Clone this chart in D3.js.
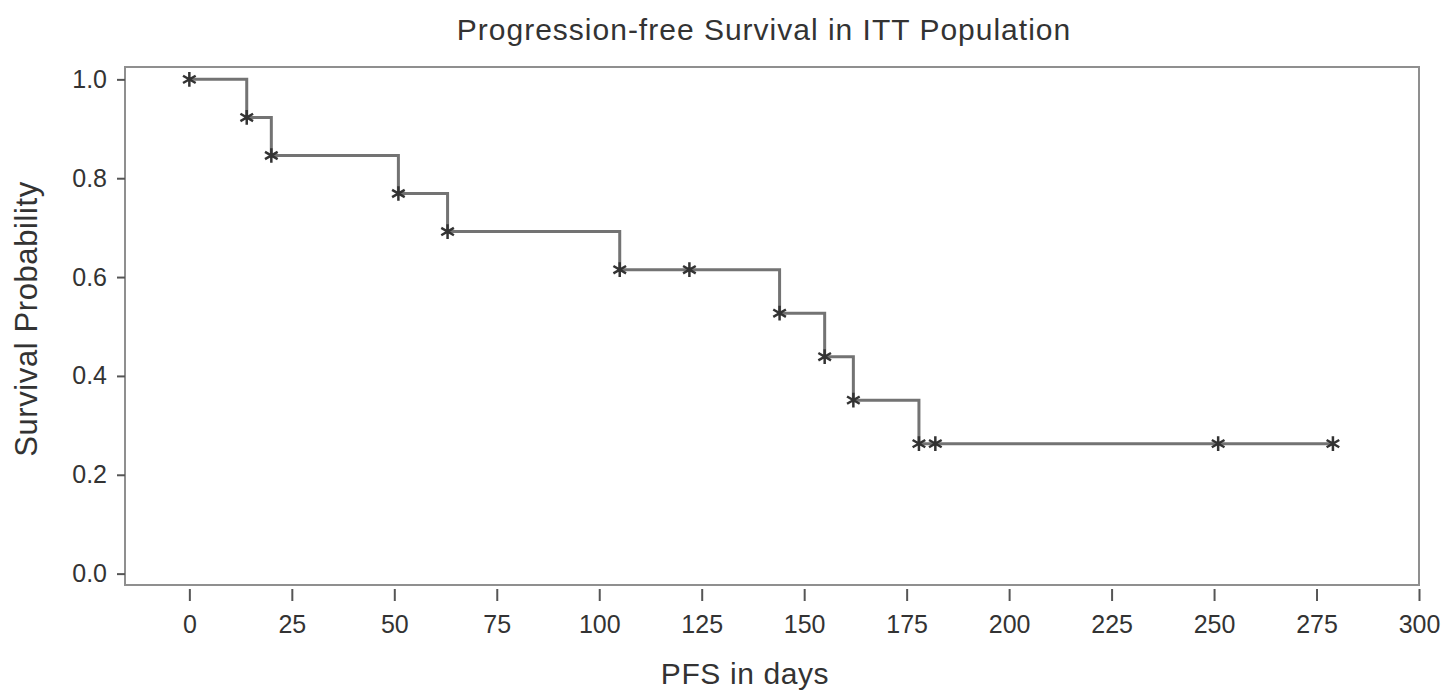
<!DOCTYPE html>
<html>
<head>
	<meta charset="utf-8">
	<title>Progression-free Survival</title>
	<script src="https://cdn.jsdelivr.net/npm/d3@7"></script>
	<style>
	body { margin: 0; background: #fff; }
	text { font-family: "Liberation Sans", Arial, sans-serif; fill: #333; }
	</style>
</head>
<body>
<svg width="1446" height="693"></svg>
<script>

// Kaplan-Meier estimate (n = 13)
var eventTimes = [0, 14, 20, 51, 63, 105, 144, 155, 162, 178];
var survival   = [1.0, 0.923, 0.846, 0.769, 0.692, 0.615, 0.527, 0.439, 0.351, 0.263];
var censorTimes = [122, 182, 251, 279];
var censorSurv  = [0.615, 0.263, 0.263, 0.263];
var xTicks = [0, 25, 50, 75, 100, 125, 150, 175, 200, 225, 250, 275, 300];
var yTicks = [0.0, 0.2, 0.4, 0.6, 0.8, 1.0];

var svg = d3.select("svg");

var x = d3.scaleLinear().domain([-15.7, 300]).range([125, 1419]);
var y = d3.scaleLinear().domain([-0.023, 1.025]).range([585, 67]);

// frame
svg.append("rect")
	.attr("x", 125).attr("y", 67)
	.attr("width", 1419 - 125).attr("height", 585 - 67)
	.attr("fill", "none")
	.attr("stroke", "#8f8f8f")
	.attr("stroke-width", 2);

// x axis
var xAxis = svg.append("g")
	.attr("transform", "translate(0,589)")
	.call(d3.axisBottom(x).tickValues(xTicks).tickSize(12).tickPadding(14).tickFormat(d3.format("d")));
xAxis.select(".domain").remove();
xAxis.selectAll("line").attr("stroke", "#555").attr("stroke-width", 2);
xAxis.selectAll("text").attr("font-size", 25).attr("fill", "#333").attr("font-family", null);

// y axis
var yAxis = svg.append("g")
	.attr("transform", "translate(125,0)")
	.call(d3.axisLeft(y).tickValues(yTicks).tickSize(8).tickPadding(10).tickFormat(d3.format(".1f")));
yAxis.select(".domain").remove();
yAxis.selectAll("line").attr("stroke", "#555").attr("stroke-width", 2);
yAxis.selectAll("text").attr("font-size", 25).attr("fill", "#333").attr("font-family", null);

// step curve
var pts = eventTimes.map(function(t, i) { return [t, survival[i]]; });
pts.push([censorTimes[censorTimes.length - 1], survival[survival.length - 1]]);

var line = d3.line()
	.x(function(d) { return x(d[0]); })
	.y(function(d) { return y(d[1]); })
	.curve(d3.curveStepAfter);

svg.append("path")
	.datum(pts)
	.attr("d", line)
	.attr("fill", "none")
	.attr("stroke", "#737373")
	.attr("stroke-width", 3);

// markers
var marks = eventTimes.map(function(t, i) { return [t, survival[i]]; })
	.concat(censorTimes.map(function(t, i) { return [t, censorSurv[i]]; }));

var star = d3.symbol().type(d3.symbolAsterisk).size(150);
svg.append("g").selectAll("path")
	.data(marks)
	.enter().append("path")
	.attr("transform", function(d) { return "translate(" + x(d[0]) + "," + y(d[1]) + ")"; })
	.attr("d", star)
	.attr("fill", "none")
	.attr("stroke", "#333")
	.attr("stroke-width", 2.5);

// titles
svg.append("text")
	.attr("x", 764).attr("y", 40)
	.attr("text-anchor", "middle")
	.attr("font-size", 30)
	.attr("letter-spacing", 1)
	.text("Progression-free Survival in ITT Population");

svg.append("text")
	.attr("x", 745).attr("y", 684)
	.attr("text-anchor", "middle")
	.attr("font-size", 30)
	.attr("letter-spacing", 0.6)
	.text("PFS in days");

svg.append("text")
	.attr("transform", "translate(37,319) rotate(-90)")
	.attr("text-anchor", "middle")
	.attr("font-size", 31)
	.attr("letter-spacing", 0.6)
	.text("Survival Probability");

</script>
</body>
</html>
